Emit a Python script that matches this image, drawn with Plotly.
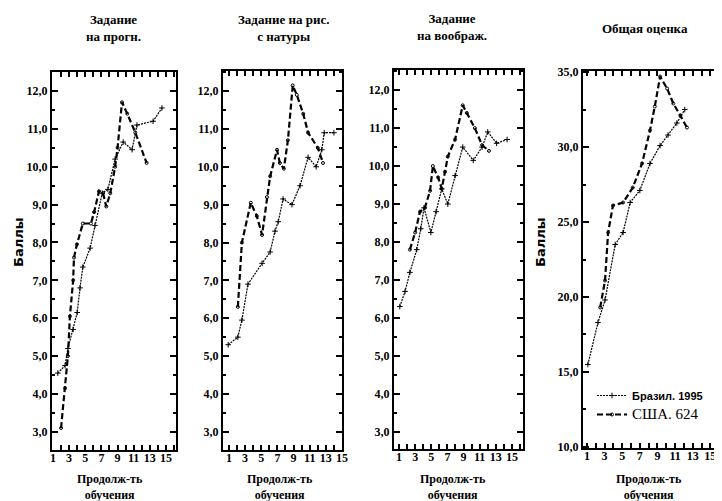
import plotly.graph_objects as go

# страница имеет отступ body 8px, поэтому холст чуть меньше окна
PAD = 8
W, H = 722 - PAD, 501 - PAD

# Продолжительность обучения (x) / баллы (y)
P1_BR_X = [1.6, 2.5, 2.85, 3.5, 4.0, 4.35, 4.7, 5.6, 6.2, 7.1, 7.8, 8.7, 9.7, 10.8, 11.4, 13.4, 14.5]
P1_BR_Y = [4.55, 4.75, 5.2, 5.7, 6.15, 6.8, 7.35, 7.85, 8.45, 9.3, 9.4, 10.2, 10.65, 10.45, 11.1, 11.2, 11.55]
P1_US_X = [2.0, 2.5, 2.85, 3.1, 3.5, 3.6, 3.97, 4.7, 5.7, 6.1, 6.7, 7.2, 7.6, 8.1, 8.7, 9.0, 9.55, 10.2, 11.2, 12.6]
P1_US_Y = [3.1, 4.15, 5.0, 6.05, 7.0, 7.6, 7.95, 8.5, 8.5, 8.8, 9.35, 9.3, 8.95, 9.3, 10.0, 10.5, 11.7, 11.4, 10.9, 10.1]

P2_BR_X = [0.9, 2.1, 2.6, 3.35, 5.1, 6.1, 6.7, 7.1, 7.7, 8.8, 9.8, 10.8, 11.8, 12.5, 12.8, 14.0]
P2_BR_Y = [5.3, 5.5, 5.95, 6.9, 7.45, 7.75, 8.3, 8.55, 9.15, 9.0, 9.5, 10.25, 10.0, 10.45, 10.9, 10.9]
P2_US_X = [2.1, 2.6, 3.7, 4.45, 5.1, 5.7, 6.1, 6.95, 7.3, 7.8, 8.3, 8.9, 9.4, 10.2, 10.8, 12.0, 12.65]
P2_US_Y = [6.3, 8.0, 9.05, 8.7, 8.2, 9.2, 9.75, 10.45, 10.1, 9.95, 10.7, 12.15, 11.9, 11.4, 10.9, 10.5, 10.1]

P3_BR_X = [1.1, 1.75, 2.35, 3.2, 3.7, 4.1, 4.95, 5.6, 6.3, 7.05, 7.95, 8.9, 10.2, 11.3, 12.0, 13.1, 14.4]
P3_BR_Y = [6.3, 6.7, 7.2, 7.8, 8.35, 8.9, 8.25, 8.8, 9.4, 9.0, 9.75, 10.5, 10.15, 10.5, 10.9, 10.6, 10.7]
P3_US_X = [2.35, 3.0, 3.6, 4.2, 4.85, 5.2, 5.85, 6.3, 6.7, 7.05, 7.95, 8.9, 9.4, 10.4, 11.3, 12.15]
P3_US_Y = [7.8, 8.25, 8.8, 8.9, 9.35, 10.0, 9.7, 9.4, 9.85, 10.25, 10.7, 11.6, 11.4, 11.0, 10.55, 10.4]

P4_BR_X = [1.1, 2.25, 3.05, 4.2, 5.1, 5.9, 7.0, 8.15, 9.3, 10.2, 11.2, 12.1]
P4_BR_Y = [15.5, 18.3, 19.8, 23.5, 24.3, 26.3, 27.1, 28.9, 30.1, 30.8, 31.6, 32.5]
P4_US_X = [2.5, 3.05, 3.4, 3.95, 5.1, 6.2, 7.25, 8.15, 8.7, 9.3, 10.1, 10.8, 11.6, 12.35]
P4_US_Y = [19.3, 21.1, 24.3, 26.1, 26.3, 27.3, 28.9, 31.1, 32.7, 34.7, 33.9, 32.9, 32.1, 31.3]

TITLES = ["Задание<br>на прогн.", "Задание на рис.<br>с натуры", "Задание<br>на воображ.", "Общая оценка"]
X_TITLE = "Продолж-ть<br>обучения"
Y_TITLE = "Баллы"
SERIES = ["<span style='font-size:11px;font-family:Liberation Sans;font-weight:bold'>Бразил. 1995</span>",
          "<span style='font-size:15px'>США. 624</span>"]

X_TICKS = [1, 3, 5, 7, 9, 11, 13, 15]
Y_TICKS_A = [3, 4, 5, 6, 7, 8, 9, 10, 11, 12]
Y_TICKS_B = [10, 15, 20, 25, 30, 35]

# рамки панелей в пикселях окна: (x0, x1, y_top, y_bottom)
BOXES = [(52, 176, 72, 450), (223, 342, 71, 450), (394, 523, 70, 449), (583, 720, 71, 448)]
X_RANGES = [[0.88, 16.24], [0.26, 15.0], [0.38, 16.37], [0.55, 16.1]]
Y_RANGES = [[2.52, 12.5], [2.52, 12.53], [2.55, 12.53], [9.93, 35.07]]

SERIF = "Liberation Serif"


def px_x(p):
    return (p - PAD) / W


def px_y(p):
    return 1 - (p - PAD) / H


panels = [
    (P1_BR_X, P1_BR_Y, P1_US_X, P1_US_Y),
    (P2_BR_X, P2_BR_Y, P2_US_X, P2_US_Y),
    (P3_BR_X, P3_BR_Y, P3_US_X, P3_US_Y),
    (P4_BR_X, P4_BR_Y, P4_US_X, P4_US_Y),
]

fig = go.Figure()
layout = dict(
    template="none",
    width=W, height=H, margin=dict(l=0, r=0, t=0, b=0, autoexpand=False),
    paper_bgcolor="white", plot_bgcolor="white",
    showlegend=True,
    legend=dict(x=px_x(592), y=px_y(381), xanchor="left", yanchor="top",
                bgcolor="rgba(0,0,0,0)", font=dict(family=SERIF, size=12, color="black"),
                tracegroupgap=0, itemwidth=30),
)

for i, (bx, by, ux, uy) in enumerate(panels):
    n = "" if i == 0 else str(i + 1)
    x0, x1, yt, yb = BOXES[i]
    fig.add_trace(go.Scatter(
        x=bx, y=by, xaxis="x" + n, yaxis="y" + n, mode="lines+markers", name=SERIES[0],
        line=dict(color="black", width=1.2, dash="2px,1px"),
        marker=dict(symbol="cross-thin", size=4, line=dict(color="black", width=1)),
        showlegend=(i == 3)))
    fig.add_trace(go.Scatter(
        x=ux, y=uy, xaxis="x" + n, yaxis="y" + n, mode="lines+markers", name=SERIES[1],
        line=dict(color="black", width=2.2, dash="6px,3px"),
        marker=dict(symbol="circle-open", size=3, color="black", line=dict(width=1)),
        showlegend=(i == 3)))

    yt_vals = Y_TICKS_B if i == 3 else Y_TICKS_A
    axis_common = dict(showline=True, linecolor="black", linewidth=2, mirror="ticks",
                       ticks="inside", tickcolor="black", tickwidth=2, showgrid=False,
                       zeroline=False, fixedrange=True, automargin=False,
                       tickfont=dict(family=SERIF, size=12, color="black", weight="bold"))
    layout["xaxis" + n] = dict(
        axis_common, domain=[px_x(x0), px_x(x1)], range=X_RANGES[i], anchor="y" + n,
        tickmode="array", tickvals=X_TICKS, ticktext=[str(v) for v in X_TICKS], ticklen=5,
        ticklabelstandoff=-4,
        minor=dict(dtick=1, tick0=0, ticks="inside", ticklen=5, tickcolor="black", tickwidth=2))
    layout["yaxis" + n] = dict(
        axis_common, domain=[px_y(yb), px_y(yt)], range=Y_RANGES[i], anchor="x" + n,
        tickmode="array", tickvals=yt_vals, ticktext=[f"{v},0" for v in yt_vals], ticklen=6,
        minor=dict(dtick=2.5 if i == 3 else 0.5, tick0=0, ticks="inside", ticklen=3,
                   tickcolor="black", tickwidth=1.5))

fig.update_layout(**layout)

# заголовки панелей
title_pos = [(113, 28), (283, 28), (452, 27), (645, 28)]
for (tx, ty), t in zip(title_pos, TITLES):
    fig.add_annotation(x=px_x(tx), y=px_y(ty), xref="paper", yref="paper", text=t,
                       xanchor="center", yanchor="middle", showarrow=False,
                       font=dict(family=SERIF, size=13, color="black", weight="bold"))

# подписи оси x
for cx in [110, 280, 453, 649]:
    fig.add_annotation(x=px_x(cx), y=px_y(487), xref="paper", yref="paper", text=X_TITLE,
                       xanchor="center", yanchor="middle", showarrow=False,
                       font=dict(family=SERIF, size=12, color="black", weight="bold"))

# подписи оси y
for cx in [18, 540]:
    fig.add_annotation(x=px_x(cx), y=px_y(243), xref="paper", yref="paper", text=Y_TITLE,
                       xanchor="center", yanchor="middle", textangle=-90, showarrow=False,
                       font=dict(family="DejaVu Sans", size=13, color="black", weight="bold"))

fig.write_html("out.html")
